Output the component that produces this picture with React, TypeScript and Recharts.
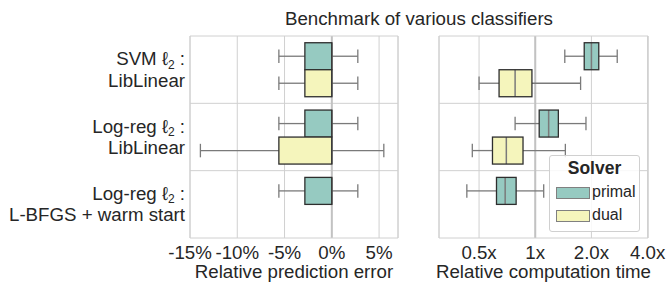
import {
  BarChart,
  Bar,
  XAxis,
  YAxis,
  CartesianGrid,
  ReferenceArea,
} from "recharts";

// categories (one row of boxes each)
const classifiers = ["svm", "logreg", "lbfgs"];
const labelHead = ["SVM", "Log-reg", "Log-reg"];
const labelSolver = ["LibLinear", "LibLinear", "L-BFGS + warm start"];

// hue levels
const solvers = ["primal", "dual"];
const solverColors = ["#96CAC1", "#F5F5BC"];

// box stats: [whisker low, q1, median, q3, whisker high]
type Stats = number[] | null;

// relative prediction error (%)
const errorPrimal: Stats[] = [
  [-5.6, -2.85, 0, 0, 2.75],
  [-5.6, -2.85, 0, 0, 2.75],
  [-5.6, -2.85, 0, 0, 2.75],
];
const errorDual: Stats[] = [
  [-5.6, -2.85, 0, 0, 2.75],
  [-13.9, -5.6, 0, 0, 5.5],
  null,
];

// relative computation time (ratio)
const timePrimal: Stats[] = [
  [1.44, 1.83, 2.0, 2.19, 2.75],
  [0.78, 1.05, 1.18, 1.33, 1.87],
  [0.43, 0.62, 0.69, 0.79, 1.11],
];
const timeDual: Stats[] = [
  [0.5, 0.64, 0.78, 0.96, 1.75],
  [0.46, 0.59, 0.7, 0.86, 1.45],
  null,
];

const errorTicks = [-15, -10, -5, 0, 5];
const timeTicks = [0.5, 1, 2, 4];
const timeTickLabels = ["0.5x", "1x", "2.0x", "4.0x"];

const errorData = classifiers.map((name, i) => ({
  name,
  primal: errorPrimal[i],
  dual: errorDual[i],
}));
const timeData = classifiers.map((name, i) => ({
  name,
  primal: timePrimal[i],
  dual: timeDual[i],
}));

const TEXT = "#262626";
const GRID = "#d0d0d0";
const FONT = "'Liberation Sans', Arial, sans-serif";
const FS = 18.7;

const range = (key: "primal" | "dual") => (d: any) =>
  d[key] ? [d[key][0], d[key][4]] : null;

// draws whiskers + box inside the range bar [whisker low, whisker high]
const BoxShape = (props: any) => {
  const { x, y, width, height, stats, fill, log } = props;
  if (!stats || width == null) return null;
  const f = log ? Math.log : (v: number) => v;
  const lo = f(stats[0]);
  const hi = f(stats[4]);
  const px = (v: number) => x + ((f(v) - lo) / (hi - lo)) * width;
  const cy = y + height / 2;
  const cap = height / 4;
  const [w0, q1, med, q3, w1] = stats.map(px);
  return (
    <g>
      <line x1={w0} x2={q1} y1={cy} y2={cy} stroke="#7a7a7a" strokeWidth={1.3} />
      <line x1={q3} x2={w1} y1={cy} y2={cy} stroke="#7a7a7a" strokeWidth={1.3} />
      <line x1={w0} x2={w0} y1={cy - cap} y2={cy + cap} stroke="#7a7a7a" strokeWidth={1.3} />
      <line x1={w1} x2={w1} y1={cy - cap} y2={cy + cap} stroke="#7a7a7a" strokeWidth={1.3} />
      <rect x={q1} y={y} width={q3 - q1} height={height} fill={fill} />
      <line x1={med} x2={med} y1={y} y2={y + height} stroke="#7a7a7a" strokeWidth={1.5} />
      <rect x={q1} y={y} width={q3 - q1} height={height} fill="none" stroke="#2e2e2e" strokeWidth={1.3} />
    </g>
  );
};

const ClassifierTick = ({ x, y, index }: any) => (
  <g fontSize={FS} fill={TEXT}>
    <text x={x} y={y - 4.5} textAnchor="end">
      {labelHead[index]} ℓ
      <tspan dy={3.5} fontSize={12}>2</tspan>
      <tspan dy={-3.5}> :</tspan>
    </text>
    <text x={x} y={y + 17} textAnchor="end">
      {labelSolver[index]}
    </text>
  </g>
);

const groupLines = ({ offset }: any) =>
  classifiers.slice(1).map((_, i) => offset.top + (offset.height * (i + 1)) / classifiers.length);

// thicker reference line at "no change" (0% / 1x), drawn under the boxes
const refLine = (value: number, domain: number[], log: boolean) => ({ xAxis, offset }: any) => {
  if (xAxis && typeof xAxis.scale === "function") return [xAxis.scale(value)];
  const f = log ? Math.log : (v: number) => v;
  return [offset.left + ((f(value) - f(domain[0])) / (f(domain[1]) - f(domain[0]))) * offset.width];
};

const boxBars = (log: boolean) =>
  solvers.map((s, i) => (
    <Bar
      key={s}
      dataKey={range(s as "primal" | "dual")}
      isAnimationActive={false}
      shape={(p: any) => <BoxShape {...p} stats={p.payload[s]} fill={solverColors[i]} log={log} />}
    />
  ));

const errorDomain = [-15, 7];
const timeDomain = [0.305, 4.02];

export default function App() {
  return (
    <div
      style={{
        position: "absolute",
        left: 0,
        top: 0,
        width: 667,
        height: 282,
        background: "#fff",
        fontFamily: FONT,
        color: TEXT,
      }}
    >
      <div
        style={{
          position: "absolute",
          left: 219,
          top: 8,
          width: 400,
          textAlign: "center",
          fontSize: FS,
          lineHeight: "22px",
        }}
      >
        Benchmark of various classifiers
      </div>

      {/* left: prediction error */}
      <div style={{ position: "absolute", left: 0, top: 0 }}>
        <BarChart
          width={400}
          height={282}
          data={errorData}
          layout="vertical"
          margin={{ top: 36, right: 2, bottom: 0, left: 0 }}
          barCategoryGap="10%"
          barGap={0}
        >
          <CartesianGrid stroke={GRID} horizontalCoordinatesGenerator={groupLines} />
          <CartesianGrid
            horizontal={false}
            stroke="#c2c2c2"
            strokeWidth={2}
            verticalCoordinatesGenerator={refLine(0, errorDomain, false)}
          />
          <ReferenceArea x1={errorDomain[0]} x2={errorDomain[1]} fill="none" stroke={GRID} strokeOpacity={1} />
          <XAxis
            type="number"
            domain={errorDomain}
            allowDataOverflow
            ticks={errorTicks}
            tickFormatter={(v) => `${v}%`}
            axisLine={false}
            tickLine={false}
            height={44}
            tick={{ fill: TEXT, fontSize: FS }}
            label={{ value: "Relative prediction error", position: "insideBottom", offset: 4, fill: TEXT, fontSize: FS }}
          />
          <YAxis
            type="category"
            dataKey="name"
            width={190}
            axisLine={false}
            tickLine={false}
            tickSize={0}
            tickMargin={5}
            tick={<ClassifierTick />}
          />
          {boxBars(false)}
        </BarChart>
      </div>

      {/* right: computation time */}
      <div style={{ position: "absolute", left: 400, top: 0 }}>
        <BarChart
          width={267}
          height={282}
          data={timeData}
          layout="vertical"
          margin={{ top: 36, right: 19, bottom: 0, left: 39 }}
          barCategoryGap="10%"
          barGap={0}
        >
          <CartesianGrid stroke={GRID} horizontalCoordinatesGenerator={groupLines} />
          <CartesianGrid
            horizontal={false}
            stroke="#c2c2c2"
            strokeWidth={2}
            verticalCoordinatesGenerator={refLine(1, timeDomain, true)}
          />
          <ReferenceArea x1={timeDomain[0]} x2={timeDomain[1]} fill="none" stroke={GRID} strokeOpacity={1} />
          <XAxis
            type="number"
            scale="log"
            domain={timeDomain}
            allowDataOverflow
            ticks={timeTicks}
            tickFormatter={(v) => timeTickLabels[timeTicks.indexOf(v)] ?? `${v}x`}
            axisLine={false}
            tickLine={false}
            height={44}
            tick={{ fill: TEXT, fontSize: FS }}
            label={{ value: "Relative computation time", position: "insideBottom", offset: 4, fill: TEXT, fontSize: FS }}
          />
          <YAxis type="category" dataKey="name" hide width={0} />
          {boxBars(true)}
        </BarChart>
      </div>

      {/* legend */}
      <div
        style={{
          position: "absolute",
          left: 549,
          top: 155,
          width: 89,
          height: 75,
          border: `1px solid ${GRID}`,
          borderRadius: 3,
          background: "rgba(255,255,255,0.85)",
        }}
      >
        <div
          style={{
            position: "absolute",
            left: 0,
            top: 2,
            width: 89,
            textAlign: "center",
            fontWeight: "bold",
            fontSize: 17.5,
            lineHeight: "20px",
          }}
        >
          Solver
        </div>
        {solvers.map((s, i) => (
          <div key={s}>
            <div
              style={{
                position: "absolute",
                left: 6,
                top: 31 + i * 22.5,
                width: 32,
                height: 10,
                background: solverColors[i],
                border: "1px solid #808080",
              }}
            />
            <div
              style={{
                position: "absolute",
                left: 42,
                top: 27 + i * 23,
                fontSize: 16,
                lineHeight: "18px",
              }}
            >
              {s}
            </div>
          </div>
        ))}
      </div>
    </div>
  );
}
